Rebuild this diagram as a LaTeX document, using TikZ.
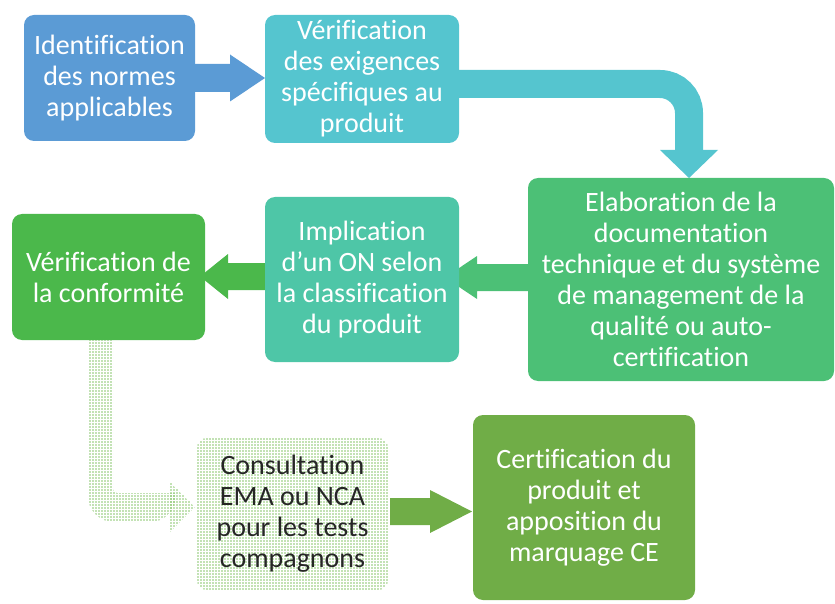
\documentclass[tikz,border=0pt]{standalone}
\usepackage{fontspec}
\setmainfont{Carlito}[Ligatures={NoCommon}]
\usetikzlibrary{patterns.meta,calc}
\definecolor{cBlue}{HTML}{5B9BD5}
\definecolor{cAqua}{HTML}{55C5CF}
\definecolor{cGreenA}{HTML}{4CC076}
\definecolor{cTeal}{HTML}{4EC6A7}
\definecolor{cGreenB}{HTML}{4BB84B}
\definecolor{cOlive}{HTML}{70AD47}
\definecolor{cDots}{HTML}{86C46A}
\tikzset{
  box/.style={rectangle, rounded corners=10pt, align=center, text=white,
    font=\fontsize{28}{31}\selectfont, inner sep=0pt},
  dotsfill/.style={pattern={Dots[distance=3pt,radius=0.85pt]}, pattern color=cDots},
}
\begin{document}
\begin{tikzpicture}[x=1pt,y=-1pt]
\useasboundingbox (0,0) rectangle (835,604);
% arrows (drawn first)
% b1 -> b2
\fill[cBlue] (190,64) -- (230,64) -- (230,54.5) -- (265,78) -- (230,101.5) -- (230,92) -- (190,92) -- cycle;
% b2 -> b3 (bent)
\draw[cAqua, line width=28pt, rounded corners=29pt] (450,84) -- (689,84) -- (689,152);
\fill[cAqua] (660,150) -- (718,150) -- (689,178) -- cycle;
% b3 -> b4
\fill[cGreenA] (535,264) -- (477,264) -- (477,256) -- (445,277.5) -- (477,299) -- (477,291) -- (535,291) -- cycle;
% b4 -> b5
\fill[cGreenB] (270,263) -- (228,263) -- (228,254) -- (200,276.5) -- (228,299) -- (228,290) -- (270,290) -- cycle;
% b5 -> b6 (dotted, bent)
\fill[dotsfill] (113,330) -- (88,330) [rounded corners=26pt] -- (88,522) -- (176,522) [sharp corners] -- (176,493) [rounded corners=4pt] -- (113,493) -- (113,330) [sharp corners] -- cycle;
\fill[dotsfill] (170,482) -- (195,507) -- (170,532) -- cycle;
% b6 -> b7
\fill[cOlive] (390,498) -- (430,498) -- (430,490) -- (472,511.5) -- (430,533) -- (430,525) -- (390,525) -- cycle;

% boxes
\node[box, fill=cBlue, minimum width=171pt, minimum height=126pt] (b1) at (109.5,78)
  {Identification\\des normes\\applicables};
\node[box, fill=cAqua, minimum width=194pt, minimum height=128pt] (b2) at (362,79)
  {Vérification\\des exigences\\spécifiques au\\produit};
\node[box, fill=cGreenA, minimum width=306pt, minimum height=203pt] (b3) at (681,279.5)
  {Elaboration de la\\documentation\\technique et du système\\de management de la\\qualité ou auto-\\certification};
\node[box, fill=cTeal, minimum width=194pt, minimum height=165pt] (b4) at (362,279.5)
  {Implication\\d’un ON selon\\la classification\\du produit};
\node[box, fill=cGreenB, minimum width=193pt, minimum height=126pt] (b5) at (108.5,277)
  {Vérification de\\la conformité};
\node[box, dotsfill, text=black!85, minimum width=191pt, minimum height=152pt] (b6) at (292.5,514)
  {Consultation\\EMA ou NCA\\pour les tests\\compagnons};
\node[box, fill=cOlive, minimum width=222pt, minimum height=185pt] (b7) at (584,507.5)
  {Certification du\\produit et\\apposition du\\marquage CE};
\end{tikzpicture}
\end{document}
